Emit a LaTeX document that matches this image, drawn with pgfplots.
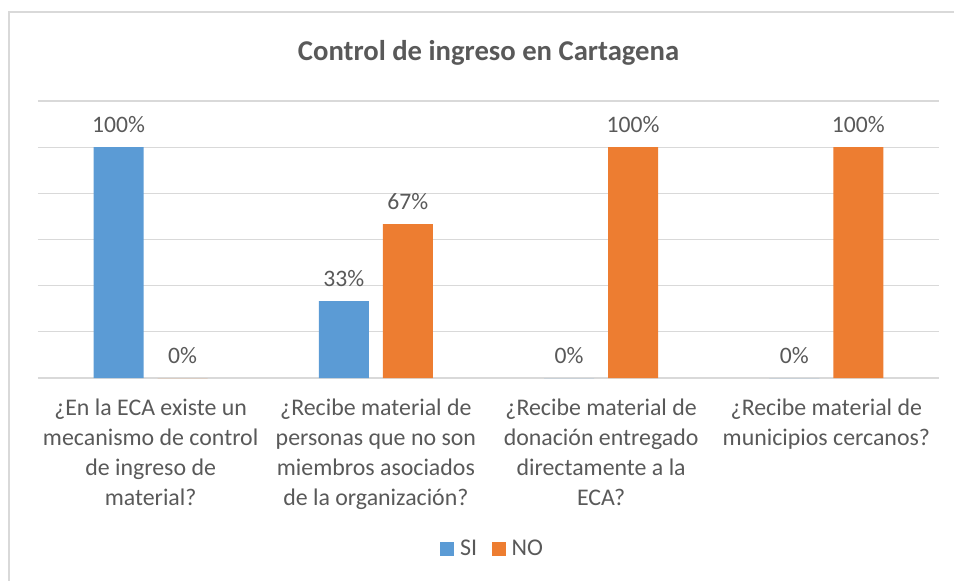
\documentclass[border=0pt]{standalone}
\usepackage{fontspec}
\setmainfont{Carlito}
\usepackage{pgfplots}
\pgfplotsset{compat=1.18}
\definecolor{siblue}{HTML}{5B9BD5}
\definecolor{noorange}{HTML}{ED7D31}
\definecolor{txtgray}{HTML}{595959}
\definecolor{gridgray}{HTML}{D9D9D9}
\begin{document}
\begin{tikzpicture}
\useasboundingbox (0,0) rectangle (715.5pt,-435.75pt);
\draw[gridgray, line width=0.9pt] (6.75pt,-440pt) -- (6.75pt,-9pt) -- (720pt,-9pt);
\node[font=\fontsize{21.5}{25}\selectfont\bfseries, text=txtgray] at (366.4pt,-39.75pt) {Control de ingreso en Cartagena};
\begin{axis}[
  at={(28.5pt,-283.5pt)}, anchor=south west,
  width=675.75pt, height=207.75pt, scale only axis,
  ymin=0, ymax=120, xmin=-0.5, xmax=3.5,
  enlargelimits=false, clip=false,
  ybar=10.5pt, bar width=37.5pt,
  axis line style={draw=none},
  tick style={draw=none},
  ytick={0,20,40,60,80,100,120}, yticklabels={},
  ymajorgrids, grid style={color=gridgray, line width=0.9pt},
  xtick={0,1,2,3},
  xticklabels={
    {¿En la ECA existe un\\mecanismo de control\\de ingreso de\\material?},
    {¿Recibe material de\\personas que no son\\miembros asociados\\de la organización?},
    {¿Recibe material de\\donación entregado\\directamente a la\\ECA?},
    {¿Recibe material de\\municipios cercanos?}},
  xticklabel style={align=center, text=txtgray, font=\fontsize{17.9}{22.5}\selectfont, anchor=north, yshift=-8pt},
  /pgf/number format/assume math mode=true,
  nodes near coords={\pgfmathprintnumber[fixed,precision=0]{\pgfplotspointmeta}\%},
  every node near coord/.append style={font=\fontsize{17.7}{20}\selectfont, text=txtgray, anchor=center, yshift=17pt},
  legend style={at={(0.505,-0.617)}, anchor=center, draw=none, fill=none,
    font=\fontsize{18}{20}\selectfont, text=txtgray, legend columns=2,
    /tikz/every odd column/.append style={column sep=2.5pt},
    /tikz/every even column/.append style={column sep=9pt}},
  legend image code/.code={\fill[#1] (0pt,-5.2pt) rectangle (10.4pt,5.2pt);},
]
\addplot[fill=siblue, draw=none] coordinates {(0,100) (1,33.33) (2,0) (3,0)};
\addplot[fill=noorange, draw=none] coordinates {(0,0) (1,66.67) (2,100) (3,100)};
\legend{SI, NO}
\end{axis}
\end{tikzpicture}
\end{document}
